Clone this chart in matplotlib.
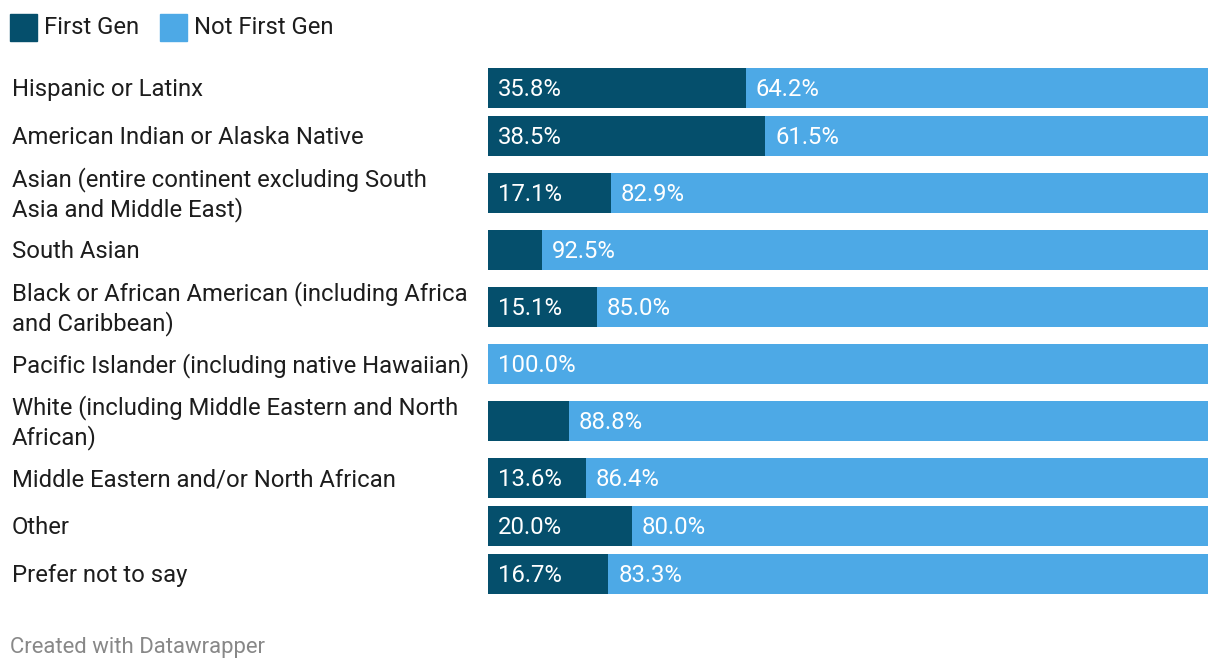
import matplotlib.pyplot as plt
from matplotlib.transforms import blended_transform_factory, offset_copy
from matplotlib.patches import Rectangle

# данные
categories = [
    "Hispanic or Latinx",
    "American Indian or Alaska Native",
    "Asian (entire continent excluding South\nAsia and Middle East)",
    "South Asian",
    "Black or African American (including Africa\nand Caribbean)",
    "Pacific Islander (including native Hawaiian)",
    "White (including Middle Eastern and North\nAfrican)",
    "Middle Eastern and/or North African",
    "Other",
    "Prefer not to say",
]
first_gen = [35.8, 38.5, 17.1, 7.5, 15.1, 0.0, 11.2, 13.6, 20.0, 16.7]
not_first_gen = [64.2, 61.5, 82.9, 92.5, 85.0, 100.0, 88.8, 86.4, 80.0, 83.3]
series_names = ["First Gen", "Not First Gen"]

dark = "#054f6c"
light = "#4da9e6"
W, H = 1220, 670
fs = 17.2

plt.rcParams['font.family'] = ['Roboto', 'DejaVu Sans']

fig = plt.figure(figsize=(W / 100, H / 100), dpi=100)
ax = fig.add_axes([488 / W, 0, 720 / W, 1])
ax.set_xlim(0, 100)
ax.set_ylim(H, 0)
ax.axis("off")

# позиции строк: двухстрочные подписи дают больший шаг
lines = [c.count("\n") + 1 for c in categories]
ys = [88]
for i in range(1, len(categories)):
    ys.append(ys[-1] + 48 + 9 * ((lines[i - 1] - 1) + (lines[i] - 1)))

ax.barh(ys, first_gen, height=40, color=dark)
ax.barh(ys, not_first_gen, left=first_gen, height=40, color=light)

tr = blended_transform_factory(fig.transFigure, ax.transData)
tr = offset_copy(tr, fig=fig, y=-1.5, units="dots")
tr_val = offset_copy(ax.transData, fig=fig, y=-1.5, units="dots")
px = 100 / 720  # один пиксель в единицах оси x
for y, cat, a, b in zip(ys, categories, first_gen, not_first_gen):
    fig.text(12 / W, y, cat, transform=tr, ha="left", va="center",
             fontsize=fs, color="#1d1d1d", linespacing=1.28)
    if a >= 12:
        ax.text(10 * px, y, f"{a:.1f}%", transform=tr_val, ha="left",
                va="center", fontsize=fs, color="white")
    if b >= 12:
        ax.text(a + 10 * px, y, f"{b:.1f}%", transform=tr_val, ha="left",
                va="center", fontsize=fs, color="white")

# легенда
for x0, name, col in [(10, series_names[0], dark), (160, series_names[1], light)]:
    fig.add_artist(Rectangle((x0 / W, 1 - 41 / H), 27 / W, 27 / H,
                             transform=fig.transFigure, color=col))
    fig.text((x0 + 34) / W, 1 - 28 / H, name, ha="left", va="center",
             fontsize=fs, color="#1d1d1d")

fig.text(10 / W, 1 - 648 / H, "Created with Datawrapper", ha="left",
         va="center", fontsize=15.9, color="#888888")

fig.savefig("out.png", dpi=100, facecolor="white")
